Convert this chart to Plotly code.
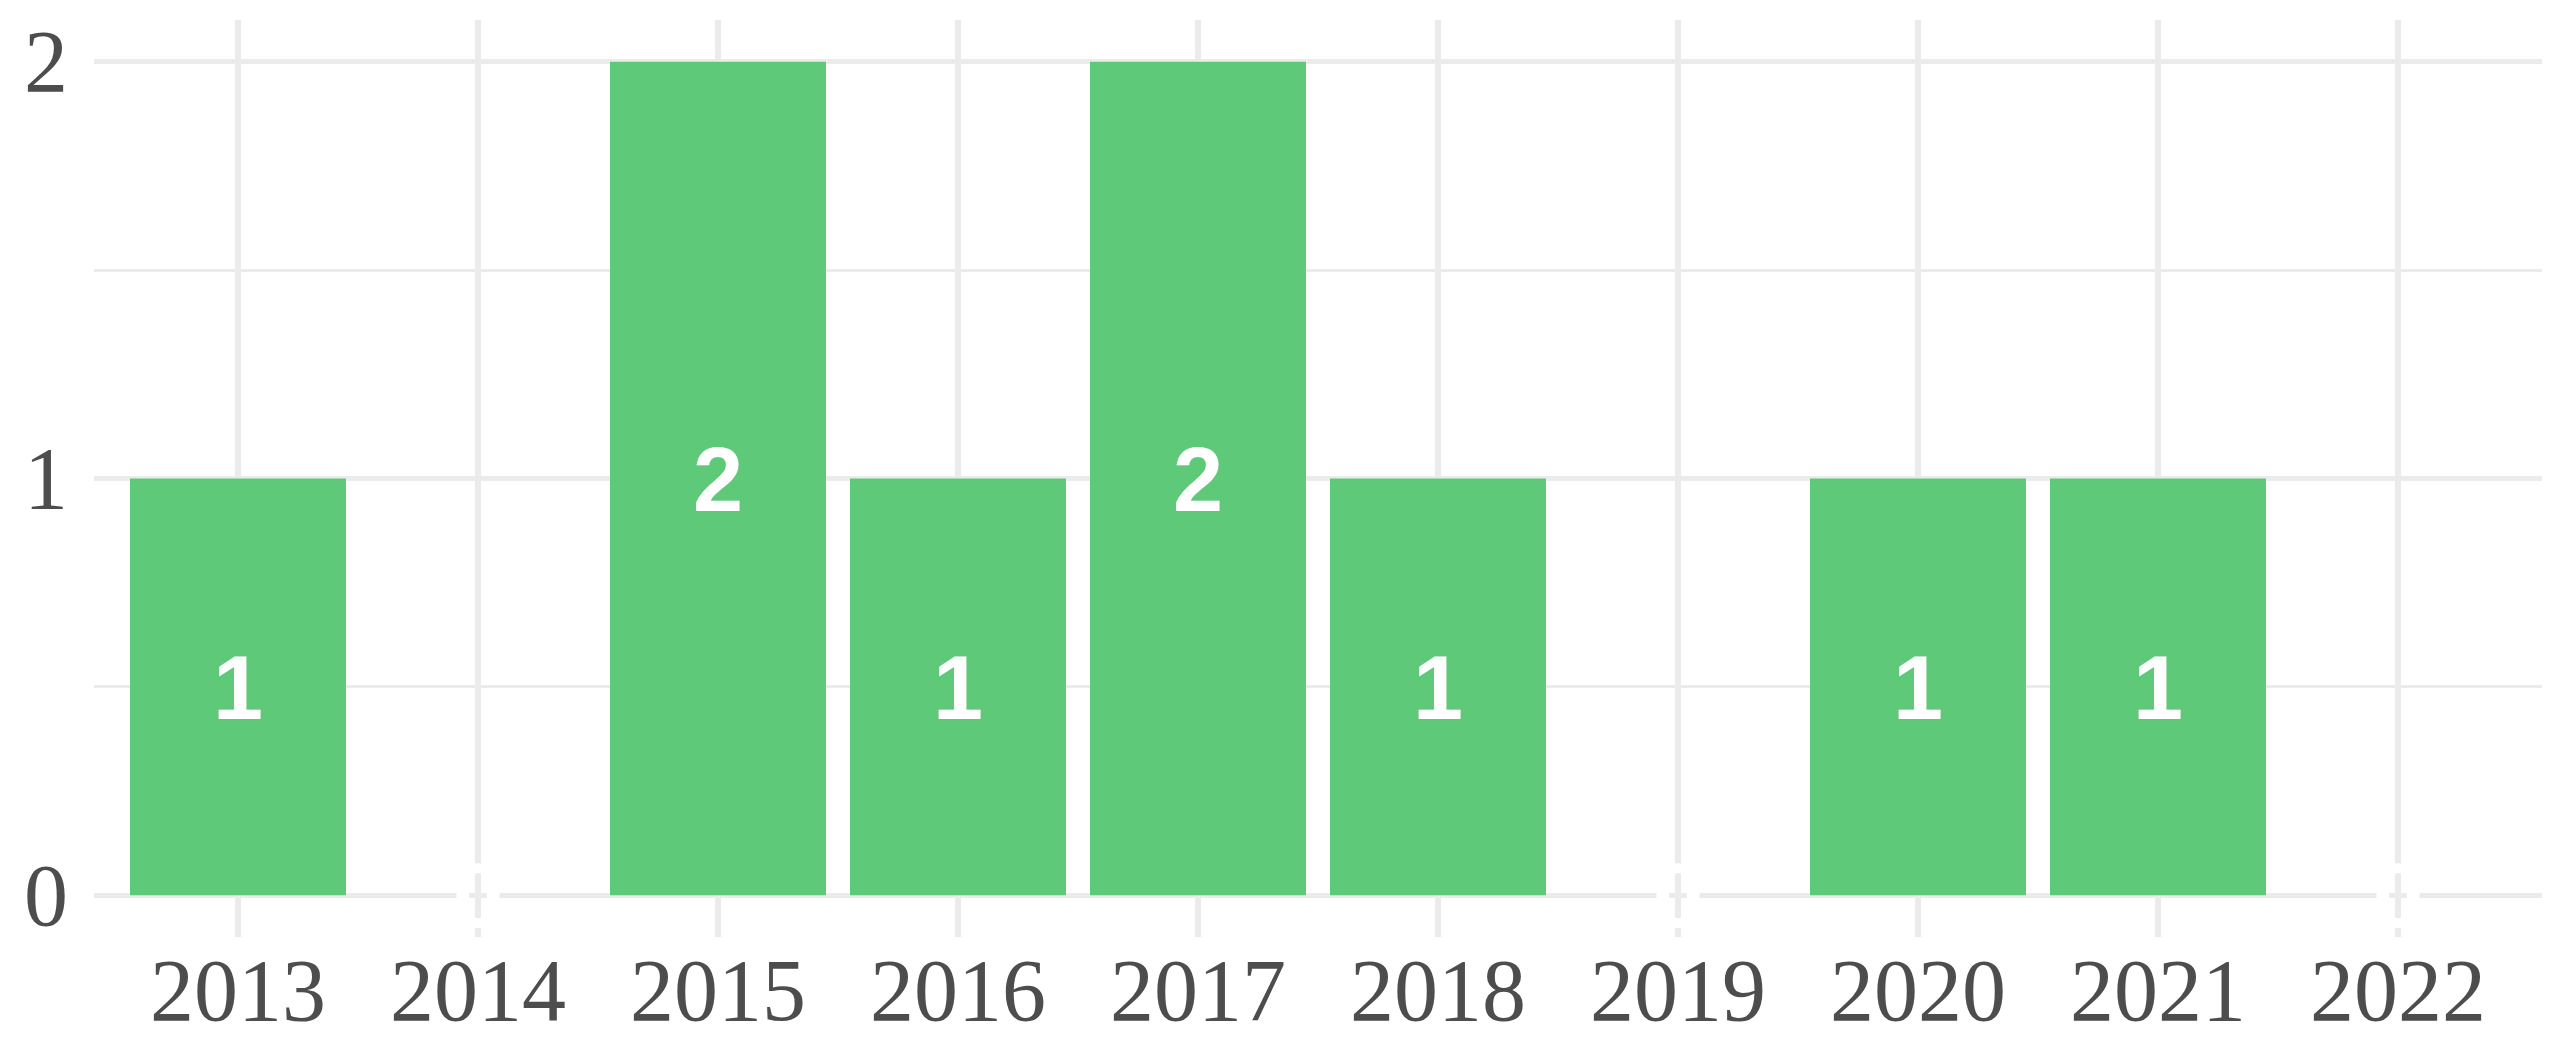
import plotly.graph_objects as go

years = ["2013", "2014", "2015", "2016", "2017", "2018", "2019", "2020", "2021", "2022"]
counts = [1, 0, 2, 1, 2, 1, 0, 1, 1, 0]
y_ticks = [0, 1, 2]

bar_color = "#5FC97A"
grid_color = "#EBEBEB"
text_color = "#4D4D4D"

fig = go.Figure()
fig.add_trace(go.Bar(
    x=years, y=counts, marker=dict(color=bar_color, line=dict(width=0)),
    hoverinfo="x+y", showlegend=False,
))
# value labels centred in each bar (category index on the category axis)
for i, c in enumerate(counts):
    fig.add_annotation(
        x=i, y=c / 2, xref="x", yref="y", text=str(c), showarrow=False, yshift=-1,
        font=dict(family="Liberation Sans", size=90, color="white", weight="bold"),
    )

fig.update_layout(
    width=2564, height=1056,
    margin=dict(l=86, r=30, t=12, b=127, autoexpand=False),
    plot_bgcolor="white", paper_bgcolor="white",
    bargap=0.1,
    font=dict(family="Liberation Serif", color=text_color, size=80),
)
fig.update_xaxes(
    type="category", range=[-0.6, 9.6], automargin=False,
    showgrid=True, gridcolor=grid_color, gridwidth=6,
    zeroline=False, showline=False, ticks="",
    tickfont=dict(family="Liberation Serif", size=88, color=text_color),
    ticklabelstandoff=-6,
)
fig.update_yaxes(
    range=[-0.1, 2.1], tickvals=y_ticks, ticktext=[str(v) for v in y_ticks],
    automargin=False,
    showgrid=True, gridcolor=grid_color, gridwidth=5,
    minor=dict(dtick=0.5, tick0=0, showgrid=True, gridcolor=grid_color, gridwidth=2.8),
    zeroline=False, showline=False, ticks="",
    tickfont=dict(family="Liberation Serif", size=88, color=text_color),
    ticklabelstandoff=25, ticklabelshift=-1,
)

fig.write_html("out.html")
